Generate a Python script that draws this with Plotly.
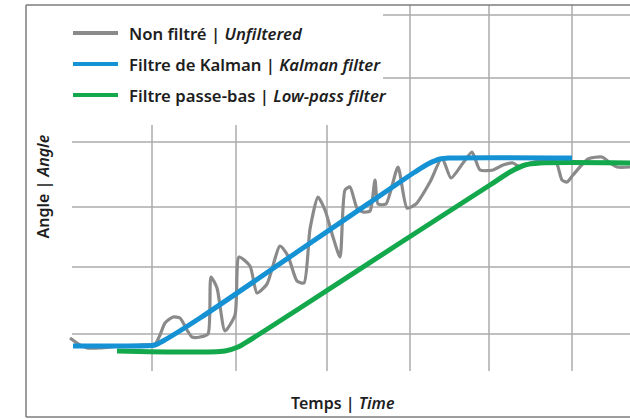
import plotly.graph_objects as go

# ---- data (arbitrary time / angle units) ----
raw_t = [44, 51, 61, 74, 94, 114, 129, 134, 139, 147, 154, 161, 166, 174, 182, 185, 191, 199, 209, 213,
         224, 231, 241, 254, 262, 271, 278, 284, 292, 299, 307, 314, 319, 324, 331, 337, 344, 349, 352, 360,
         372, 381, 390, 404, 416, 425, 437, 446, 454, 467, 477, 487, 494, 504, 529, 536, 541, 547, 562, 576,
         584, 591, 604]
raw_a = [79, 74, 69, 69, 71, 72, 73, 82, 94, 100, 99, 87, 80, 80, 83, 140, 129, 86, 102, 160,
         151, 124, 133, 171, 161, 136, 134, 188, 220, 207, 180, 160, 227, 230, 209, 205, 206, 237, 213, 213,
         250, 209, 213, 235, 259, 239, 254, 265, 247, 247, 252, 254, 250, 254, 257, 237, 235, 242, 258, 260,
         254, 250, 250]

kalman_t = [47, 94, 129, 137, 174, 274, 374, 389, 402, 414, 424, 546]
kalman_a = [71, 71, 72, 76, 99, 167, 235, 245, 253, 258, 259, 259]

lowpass_t = [91, 199, 212, 224, 274, 374, 464, 484, 499, 514, 604]
lowpass_a = [66, 66, 70, 77, 109, 174, 232, 245, 252, 254, 254]

grid_t = [126, 210, 301, 384, 463, 546]
grid_a = [402, 339, 275, 210, 150, 83]

labels = ["Non filtré", "Filtre de Kalman", "Filtre passe-bas"]
labels_en = ["Unfiltered", "Kalman filter", "Low-pass filter"]
colors = ["#8a8a8a", "#1592d4", "#12a84b"]

FONT = "Noto Sans"
TXT = "#1e1e1e"
FSIZE = 16
LSIZE = 16.7
FW = 600

fig = go.Figure()
fig.add_trace(go.Scatter(x=raw_t, y=raw_a, mode="lines",
                         line=dict(color=colors[0], width=3.2, shape="spline", smoothing=0.6),
                         showlegend=False, hoverinfo="skip"))
fig.add_trace(go.Scatter(x=lowpass_t, y=lowpass_a, mode="lines",
                         line=dict(color=colors[2], width=5, shape="spline", smoothing=0.8),
                         showlegend=False, hoverinfo="skip"))
fig.add_trace(go.Scatter(x=kalman_t, y=kalman_a, mode="lines",
                         line=dict(color=colors[1], width=5, shape="spline", smoothing=0.8),
                         showlegend=False, hoverinfo="skip"))

shapes = []
gcol = "#ababab"
for a in grid_a:
    shapes.append(dict(type="line", xref="x", yref="y", x0=46, x1=604, y0=a, y1=a,
                       line=dict(color=gcol, width=1.5), layer="below"))
for t in grid_t:
    shapes.append(dict(type="line", xref="x", yref="y", x0=t, x1=t, y0=46, y1=412,
                       line=dict(color=gcol, width=1.5), layer="below"))
# white legend panel hiding the upper-left part of the grid
shapes.append(dict(type="rect", xref="x", yref="y", x0=0, x1=357, y0=292, y1=413,
                   fillcolor="white", line=dict(width=0), layer="below"))
# frame
fcol = "#7d7d7d"
shapes.append(dict(type="line", xref="paper", yref="paper", x0=0, x1=0, y0=0, y1=1,
                   line=dict(color=fcol, width=1.5)))
shapes.append(dict(type="line", xref="paper", yref="paper", x0=0, x1=1, y0=1, y1=1,
                   line=dict(color=fcol, width=1.5)))
shapes.append(dict(type="line", xref="paper", yref="paper", x0=0, x1=1, y0=0, y1=0,
                   line=dict(color=fcol, width=1.5)))

annotations = []
leg_y = [384, 353, 322]
for i in range(3):
    shapes.append(dict(type="line", xref="x", yref="y", x0=47, x1=92, y0=leg_y[i], y1=leg_y[i],
                       line=dict(color=colors[i], width=4)))
    annotations.append(dict(xref="x", yref="y", x=101, y=leg_y[i], xanchor="left", yanchor="middle",
                            text=f"{labels[i]} | <i>{labels_en[i]}</i>", showarrow=False,
                            font=dict(family=FONT, size=LSIZE, color=TXT, weight=FW)))

annotations.append(dict(xref="x", yref="y", x=16.5, y=230, text="Angle | <i>Angle</i>",
                        textangle=-90, showarrow=False, xanchor="center", yanchor="middle",
                        font=dict(family=FONT, size=FSIZE, color=TXT, weight=FW)))
annotations.append(dict(xref="x", yref="y", x=316.5, y=14, text="Temps | <i>Time</i>",
                        showarrow=False, xanchor="center", yanchor="middle",
                        font=dict(family=FONT, size=FSIZE, color=TXT, weight=FW)))

fig.update_layout(
    width=630, height=419,
    margin=dict(l=26, r=0, t=5, b=2),
    paper_bgcolor="white", plot_bgcolor="white",
    xaxis=dict(range=[0, 604], visible=False, fixedrange=True),
    yaxis=dict(range=[0, 412], visible=False, fixedrange=True),
    shapes=shapes, annotations=annotations,
    showlegend=False,
)

fig.write_html("out.html", config={"displayModeBar": False},
               post_script="document.body.style.margin='0';document.body.style.overflow='hidden';")
